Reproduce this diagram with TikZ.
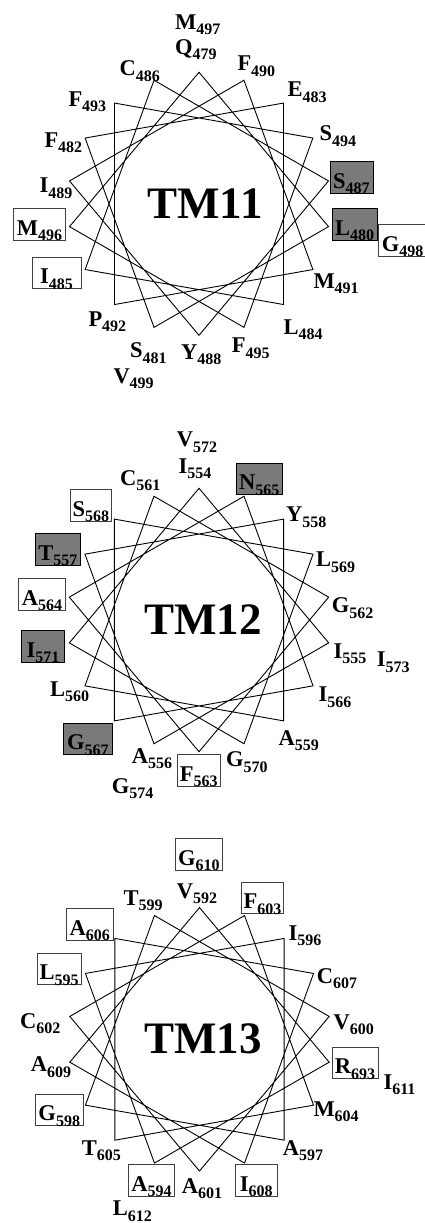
\documentclass[tikz,border=0pt]{standalone}
\usepackage{fontspec}
\setmainfont{Liberation Serif}

% residue letter with its sequence number set as a subscript
\newcommand{\resid}[2]{{\fontsize{22.5}{22.5}\selectfont #1}\raisebox{-5.5pt}{\fontsize{16}{16}\selectfont #2}}

% helical wheel: 18 positions, 100 degrees per residue
% #1 name prefix, #2 centre x, #3 centre y, #4 radius
\newcommand{\helixwheel}[4]{%
  \foreach \j in {0,...,17}{
    \coordinate (#1v\j) at ({#2+#4*cos(90-100*\j)},{#3-#4*sin(90-100*\j)});
  }
  \draw[helix] (#1v0) \foreach \j in {1,...,17}{ -- (#1v\j) } -- cycle;
}

\tikzset{
  helix/.style={line width=0.9pt, line join=miter},
  lbl/.style={anchor=base west, inner sep=0pt, font=\bfseries},
  tag/.style={anchor=base west, inner xsep=1pt, inner ysep=0pt,
              text height=26.5pt, text depth=5pt, draw=black!75,
              line width=0.8pt, font=\bfseries, minimum width=#1},
  tagdark/.style={tag=#1, fill=black!52, draw=black},
  title/.style={font=\bfseries\fontsize{45}{45}\selectfont, inner sep=0pt},
}

\begin{document}
\begin{tikzpicture}[x=1pt,y=-1pt]
\path[use as bounding box, fill=white] (0,0) rectangle (425,1223);

% ---------------- TM11 ----------------
\helixwheel{a}{199}{203.8}{131.5}
\node[title] (tm11) at (205,204) {TM11};
\node[lbl] (M497) at (175,29.5) {\resid{M}{497}};
\node[lbl] (Q479) at (175,54.5) {\resid{Q}{479}};
\node[lbl] (C486) at (119.3,76) {\resid{C}{486}};
\node[lbl] (F490) at (237.3,70.7) {\resid{F}{490}};
\node[lbl] (E483) at (287.3,96.7) {\resid{E}{483}};
\node[lbl] (F493) at (68.3,106) {\resid{F}{493}};
\node[lbl] (S494) at (319.3,140.7) {\resid{S}{494}};
\node[lbl] (F482) at (44.3,147.3) {\resid{F}{482}};
\node[tagdark=43pt] (S487) at (329.5,188.2) {\resid{S}{487}};
\node[lbl] (I489) at (39.3,192.7) {\resid{I}{489}};
\node[tag=51.7pt] (M496) at (13.3,235) {\resid{M}{496}};
\node[tagdark=45pt] (L480) at (331.7,235) {\resid{L}{480}};
\node[tag=48pt] (G498) at (378.3,251) {\resid{G}{498}};
\node[tag=49pt] (I485) at (31.7,283.5) {\resid{I}{485}};
\node[lbl] (M491) at (313.3,288.3) {\resid{M}{491}};
\node[lbl] (P492) at (88.3,326) {\resid{P}{492}};
\node[lbl] (L484) at (283.3,334.3) {\resid{L}{484}};
\node[lbl] (S481) at (130,357.7) {\resid{S}{481}};
\node[lbl] (Y488) at (181,359.3) {\resid{Y}{488}};
\node[lbl] (F495) at (231.7,352.7) {\resid{F}{495}};
\node[lbl] (V499) at (113.3,383.3) {\resid{V}{499}};

% ---------------- TM12 ----------------
\helixwheel{b}{199}{620}{131.7}
\node[title] (tm12) at (203,620) {TM12};
\node[lbl] (V572) at (176.7,446.7) {\resid{V}{572}};
\node[lbl] (I554) at (178.3,473.3) {\resid{I}{554}};
\node[lbl] (C561) at (120,485) {\resid{C}{561}};
\node[tagdark=45.7pt] (N565) at (236,489.5) {\resid{N}{565}};
\node[lbl] (Y558) at (286,521.7) {\resid{Y}{558}};
\node[tag=41pt] (S568) at (70,516) {\resid{S}{568}};
\node[tagdark=45pt] (T557) at (35,560) {\resid{T}{557}};
\node[lbl] (L569) at (316,566.7) {\resid{L}{569}};
\node[tag=46.7pt] (A564) at (18.3,605) {\resid{A}{564}};
\node[lbl] (G562) at (331.7,612.7) {\resid{G}{562}};
\node[tagdark=43.3pt] (I571) at (21,657) {\resid{I}{571}};
\node[lbl] (I555) at (333.3,658.3) {\resid{I}{555}};
\node[lbl] (I573) at (376.7,666.7) {\resid{I}{573}};
\node[lbl] (L560) at (50,696) {\resid{L}{560}};
\node[lbl] (I566) at (318.3,701.7) {\resid{I}{566}};
\node[tagdark=48.3pt] (G567) at (63.3,749.5) {\resid{G}{567}};
\node[lbl] (A559) at (278.3,745) {\resid{A}{559}};
\node[lbl] (A556) at (131.7,763.3) {\resid{A}{556}};
\node[tag=43.3pt] (F563) at (176.7,781) {\resid{F}{563}};
\node[lbl] (G570) at (226,766.7) {\resid{G}{570}};
\node[lbl] (G574) at (111.7,793.3) {\resid{G}{574}};

% ---------------- TM13 ----------------
\helixwheel{c}{199.5}{1039.3}{131.7}
\node[title] (tm13) at (203,1039) {TM13};
\node[tag=46.7pt] (G610) at (175,865) {\resid{G}{610}};
\node[lbl] (V592) at (176.7,898.3) {\resid{V}{592}};
\node[lbl] (T599) at (123.3,905) {\resid{T}{599}};
\node[tag=42.7pt] (F603) at (240.7,908.5) {\resid{F}{603}};
\node[tag=46.7pt] (A606) at (66,935) {\resid{A}{606}};
\node[lbl] (I596) at (288.3,940) {\resid{I}{596}};
\node[tag=44pt] (L595) at (36.7,979.5) {\resid{L}{595}};
\node[lbl] (C607) at (316.7,983.3) {\resid{C}{607}};
\node[lbl] (C602) at (20,1028.3) {\resid{C}{602}};
\node[lbl] (V600) at (333.3,1029.3) {\resid{V}{600}};
\node[tag=46pt] (R693) at (331.7,1073.5) {\resid{R}{693}};
\node[lbl] (I611) at (383.3,1089.3) {\resid{I}{611}};
\node[lbl] (A609) at (30.7,1071.7) {\resid{A}{609}};
\node[tag=47.7pt] (G598) at (35,1120.5) {\resid{G}{598}};
\node[lbl] (M604) at (313.3,1116) {\resid{M}{604}};
\node[lbl] (T605) at (81.7,1155) {\resid{T}{605}};
\node[lbl] (A597) at (282.7,1155) {\resid{A}{597}};
\node[tag=45.7pt] (A594) at (128.3,1191) {\resid{A}{594}};
\node[lbl] (A601) at (181.7,1193.3) {\resid{A}{601}};
\node[tag=41.7pt] (I608) at (235,1191) {\resid{I}{608}};
\node[lbl] (L612) at (112.7,1215.5) {\resid{L}{612}};
\end{tikzpicture}
\end{document}
